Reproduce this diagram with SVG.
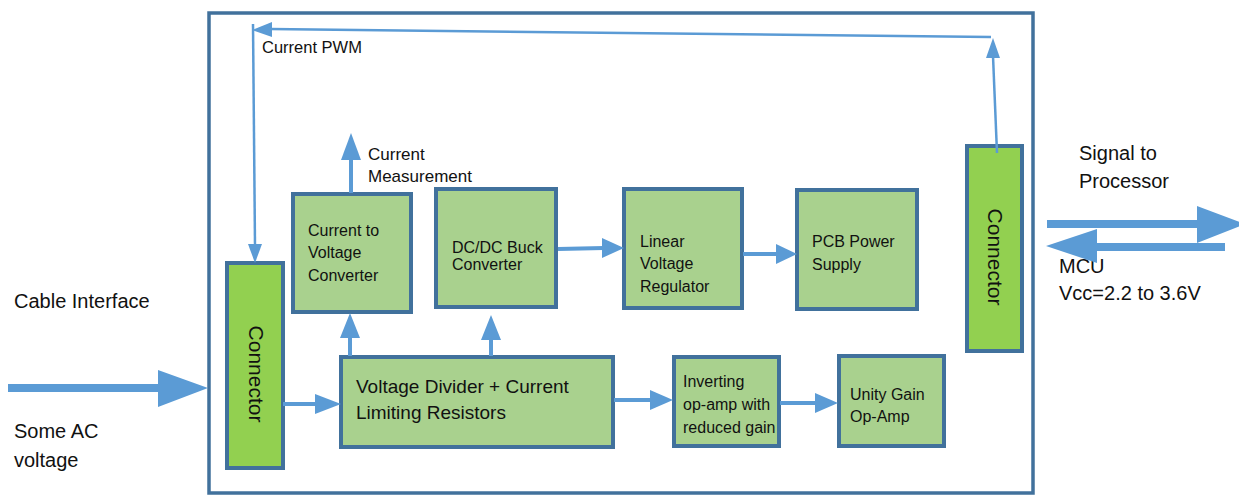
<svg xmlns="http://www.w3.org/2000/svg" width="1239" height="496" viewBox="0 0 1239 496">
<style>
.t{font-family:"Liberation Sans",Arial,sans-serif;fill:#111}
.s16{font-size:16px}
.s20{font-size:20px}
.node{fill:#A9D18E;stroke:#41719C;stroke-width:4}
.conn{fill:#92D050;stroke:#41719C;stroke-width:4}
.ln{stroke:#5B9BD5;stroke-width:4;fill:none}
.thin{stroke:#5B9BD5;stroke-width:2.5;fill:none}
.hd{fill:#5B9BD5}
</style>
<rect width="1239" height="496" fill="#fff"/>
<g id="frame"><rect x="209" y="13" width="824" height="480" fill="none" stroke="#41719C" stroke-width="3.5"/></g>

<g id="labels">
<text class="t s20" x="14" y="308">Cable Interface</text>
<text class="t s20" x="14" y="438">Some AC</text>
<text class="t s20" x="14" y="467">voltage</text>
<text class="t" style="font-size:16.5px" x="262" y="53">Current PWM</text>
<text class="t" style="font-size:17px" x="368" y="160">Current</text>
<text class="t" style="font-size:17px" x="368" y="182">Measurement</text>
<text class="t s20" x="1079" y="160">Signal to</text>
<text class="t s20" x="1079" y="188">Processor</text>
<text class="t s20" x="1059" y="273">MCU</text>
<text class="t s20" x="1059" y="300">Vcc=2.2 to 3.6V</text>
</g>

<g id="connLeft"><rect class="conn" x="227" y="263" width="56" height="205"/>
<text class="t" style="font-size:21px" x="256" y="374" text-anchor="middle" dominant-baseline="central" transform="rotate(90 256 374)">Connector</text></g>
<g id="connRight"><rect class="conn" x="967" y="146" width="55" height="205"/>
<text class="t" style="font-size:21px" x="995" y="257" text-anchor="middle" dominant-baseline="central" transform="rotate(90 995 257)">Connector</text></g>

<g id="c2v"><rect class="node" x="293" y="194" width="118" height="118"/>
<text class="t s16" x="308" y="236">Current to</text>
<text class="t s16" x="308" y="258">Voltage</text>
<text class="t s16" x="308" y="281">Converter</text></g>
<g id="buck"><rect class="node" x="436" y="189" width="120" height="118"/>
<text class="t s16" x="452" y="253">DC/DC Buck</text>
<text class="t s16" x="452" y="270">Converter</text></g>
<g id="ldo"><rect class="node" x="624" y="189" width="118" height="119"/>
<text class="t s16" x="640" y="247">Linear</text>
<text class="t s16" x="640" y="269">Voltage</text>
<text class="t s16" x="640" y="292">Regulator</text></g>
<g id="pcb"><rect class="node" x="797" y="190" width="120" height="119"/>
<text class="t s16" x="812" y="247">PCB Power</text>
<text class="t s16" x="812" y="270">Supply</text></g>
<g id="vd"><rect class="node" x="341" y="357" width="272" height="90"/>
<text class="t" style="font-size:19px" x="356" y="393">Voltage Divider + Current</text>
<text class="t" style="font-size:19px" x="356" y="419">Limiting Resistors</text></g>
<g id="inv"><rect class="node" x="674" y="357" width="105" height="89"/>
<text class="t s16" x="683" y="387">Inverting</text>
<text class="t s16" x="683" y="410">op-amp with</text>
<text class="t s16" x="683" y="433">reduced gain</text></g>
<g id="unity"><rect class="node" x="839" y="356" width="105" height="90"/>
<text class="t s16" x="850" y="400">Unity Gain</text>
<text class="t s16" x="850" y="422">Op-Amp</text></g>

<g id="connectors">
<path class="hd" d="M8,384 L158,384 L158,370 L208,388 L158,407 L158,392 L8,392 Z"/>
<line class="ln" x1="283" y1="404" x2="318" y2="404"/><path class="hd" d="M315,394 L341,404 L315,414 Z"/>
<line class="ln" x1="350" y1="356" x2="350" y2="336"/><path class="hd" d="M340,338 L350,313 L360,338 Z"/>
<line class="ln" x1="491" y1="356" x2="491" y2="338"/><path class="hd" d="M481,340 L491,315 L501,340 Z"/>
<line class="ln" x1="351" y1="193" x2="351" y2="158"/><path class="hd" d="M341,160 L351,133 L361,160 Z"/>
<line class="ln" x1="558" y1="249" x2="604" y2="248"/><path class="hd" d="M602,238 L624,248 L602,258 Z"/>
<line class="ln" x1="743" y1="254" x2="778" y2="254"/><path class="hd" d="M776,244 L797,254 L776,264 Z"/>
<line class="ln" x1="614" y1="400" x2="652" y2="400"/><path class="hd" d="M650,390 L673,400 L650,410 Z"/>
<line class="ln" x1="780" y1="403" x2="817" y2="403"/><path class="hd" d="M815,393 L838,403 L815,413 Z"/>
<line class="thin" x1="997" y1="153" x2="993" y2="56"/><path class="hd" d="M986,58 L993,38 L1000,58 Z"/>
<line class="thin" x1="991" y1="37" x2="270" y2="29"/><path class="hd" d="M272,22 L252,30 L272,37 Z"/>
<line class="thin" x1="253" y1="24" x2="255" y2="246"/><path class="hd" d="M248,244 L255,263 L262,244 Z"/>
<path class="hd" d="M1047,220 L1197,220 L1197,206 L1245,224 L1197,243 L1197,228 L1047,228 Z"/>
<path class="hd" d="M1225,243 L1097,243 L1097,229 L1046,246 L1097,263 L1097,251 L1225,251 Z"/>
</g>
</svg>
